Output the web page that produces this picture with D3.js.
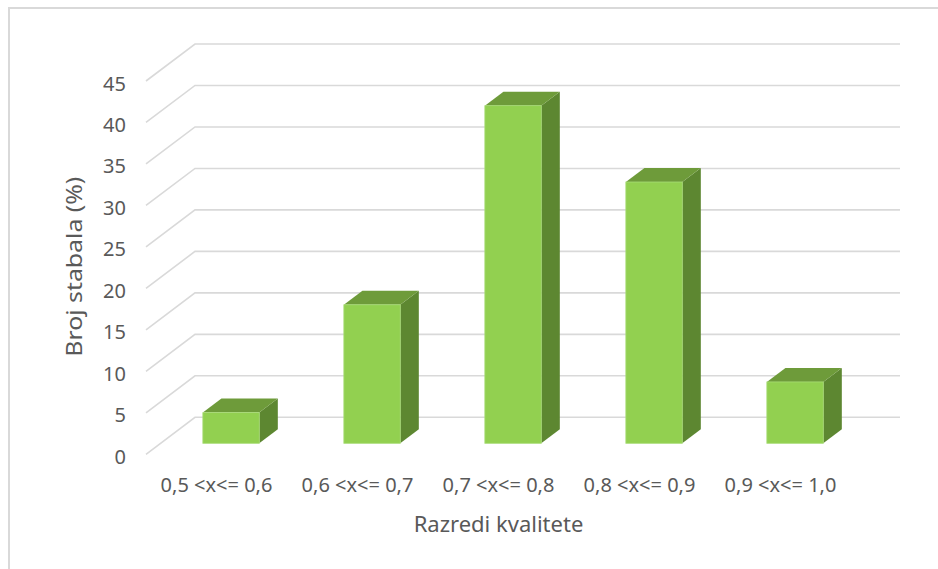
<!DOCTYPE html>
<html>
<head>
<meta charset="utf-8">
<script src="https://cdn.jsdelivr.net/npm/d3@7"></script>
<style>
  html, body { margin: 0; padding: 0; background: #ffffff; }
  svg { display: block; }
  text { font-family: "Noto Sans", "Open Sans", sans-serif; fill: #595959; }
</style>
</head>
<body>
<svg id="chart" width="938" height="569"></svg>
<script>
const categories = ["0,5 <x<= 0,6", "0,6 <x<= 0,7", "0,7 <x<= 0,8", "0,8 <x<= 0,9", "0,9 <x<= 1,0"];
const values = [3.7, 16.7, 40.7, 31.5, 7.4];
const yTicks = [0, 5, 10, 15, 20, 25, 30, 35, 40, 45];
const xTitle = "Razredi kvalitete";
const yTitle = "Broj stabala  (%)";

const svg = d3.select("#chart");

// outer frame
svg.append("rect")
  .attr("x", 9).attr("y", 8).attr("width", 940).attr("height", 580)
  .attr("fill", "none").attr("stroke", "#d9d9d9").attr("stroke-width", 2);

// scales: front floor plane
const x = d3.scaleBand().domain(categories).range([146, 851])
  .paddingInner(0.6).paddingOuter(0.3);
const y = d3.scaleLinear().domain([0, 45]).range([454.3, 81]);
const depth = { dx: 49, dy: -37 };
const barFront = 0.297, barBack = 0.676;

// gridlines (walls)
const grid = svg.append("g");
yTicks.forEach(v => {
  const y0 = y(v);
  const p = d3.path();
  p.moveTo(146, y0);
  p.lineTo(146 + depth.dx, y0 + depth.dy);
  p.lineTo(x.range()[1] + depth.dx, y0 + depth.dy);
  grid.append("path").attr("d", p.toString())
    .attr("fill", "none").attr("stroke", "#d9d9d9").attr("stroke-width", 1.6);
});

// y axis labels
const yAxis = d3.axisLeft(y).tickValues(yTicks).tickSize(0).tickPadding(0);
const gy = svg.append("g").attr("transform", "translate(126,0)").call(yAxis);
gy.select(".domain").remove();
gy.selectAll("text").attr("dy", "0.45em")
  .style("font-size", "20px").style("font-family", "'Noto Sans', sans-serif").attr("fill", "#595959");

// bars
const colFront = "#92d050", colTop = "#6e9b3a", colSide = "#5d8731";
const bars = svg.append("g");
categories.forEach((c, i) => {
  const v = values[i];
  const bw = x.bandwidth();
  const fx = x(c) + barFront * depth.dx, fdy = barFront * depth.dy;
  const bx = x(c) + barBack * depth.dx, bdy = barBack * depth.dy;
  const yb = y(0), yt = y(v);
  const g = bars.append("g");
  // side
  g.append("path").attr("d", d3.line()([
    [fx + bw, yb + fdy], [fx + bw, yt + fdy], [bx + bw, yt + bdy], [bx + bw, yb + bdy]
  ]) + "Z").attr("fill", colSide);
  // top
  g.append("path").attr("d", d3.line()([
    [fx, yt + fdy], [fx + bw, yt + fdy], [bx + bw, yt + bdy], [bx, yt + bdy]
  ]) + "Z").attr("fill", colTop);
  // front
  g.append("rect").attr("x", fx).attr("y", yt + fdy)
    .attr("width", bw).attr("height", yb - yt)
    .attr("fill", colFront).attr("stroke", "#a9dc78").attr("stroke-width", 0.8);
});

// x axis labels
const xAxis = d3.axisBottom(x).tickSize(0).tickPadding(0);
const gx = svg.append("g").attr("transform", "translate(0,477.5)").call(xAxis);
gx.select(".domain").remove();
gx.selectAll("text")
  .style("font-size", "20px").style("font-family", "'Noto Sans', sans-serif").attr("fill", "#595959");

// titles
svg.append("text").attr("x", 498.5).attr("y", 531.5)
  .attr("text-anchor", "middle").style("font-size", "22px").text(xTitle);
svg.append("text").attr("transform", "translate(82,266.7) rotate(-90)")
  .attr("text-anchor", "middle").style("font-size", "22px")
  .attr("textLength", 180).attr("lengthAdjust", "spacingAndGlyphs").text(yTitle);
</script>
</body>
</html>
